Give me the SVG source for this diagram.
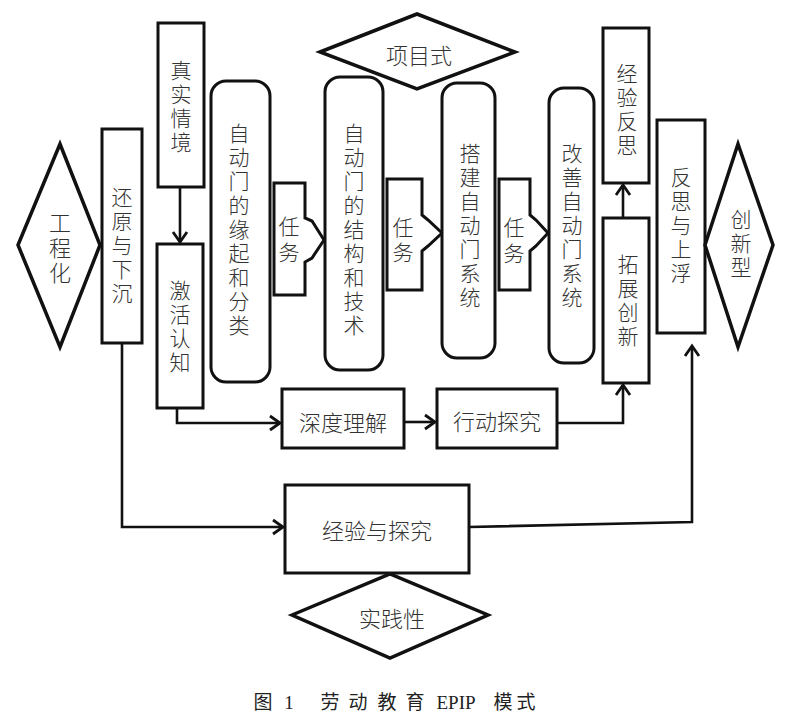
<svg xmlns="http://www.w3.org/2000/svg" width="800" height="719" viewBox="0 0 800 719">
<defs>
<style>
.box{fill:#fff;stroke:#111;stroke-width:3}
.dia{fill:#fff;stroke:#111;stroke-width:3.5;stroke-linejoin:miter}
.con{fill:none;stroke:#111;stroke-width:2.6}
.t{font-family:"Noto Sans CJK SC","Noto Sans",sans-serif;font-size:21px;font-weight:300;fill:#333;text-anchor:middle;dominant-baseline:central}
.v{writing-mode:vertical-rl;letter-spacing:3px}
.h{font-size:22px}
.cap{font-family:"Liberation Serif","Noto Sans CJK SC",serif;font-size:19px;fill:#222;text-anchor:middle;dominant-baseline:central}
</style>
<marker id="arr" markerUnits="userSpaceOnUse" markerWidth="14" markerHeight="16" refX="11" refY="7" orient="auto" overflow="visible">
<path d="M1,0 L11,7 L1,14" fill="none" stroke="#111" stroke-width="2.8"/>
</marker>
</defs>
<rect width="800" height="719" fill="#fff"/>

<g id="connectors">
<path class="con" d="M180,187 V242" marker-end="url(#arr)"/>
<path class="con" d="M177,408 V423 H280" marker-end="url(#arr)"/>
<path class="con" d="M404,422 H435" marker-end="url(#arr)"/>
<path class="con" d="M557,423 H623 V385" marker-end="url(#arr)"/>
<path class="con" d="M623,218 V185" marker-end="url(#arr)"/>
<path class="con" d="M122,343 V527 H283" marker-end="url(#arr)"/>
<path class="con" d="M469,527 L692,522 V346" marker-end="url(#arr)"/>
</g>

<g id="n-gongchenghua">
<polygon class="dia" points="18,245 60,144 100,245 60,347"/>
<text class="t v h" x="60" y="249">工程化</text>
</g>

<g id="n-huanyuan">
<rect class="box" x="102" y="129" width="40" height="214"/>
<text class="t v" x="122" y="247">还原与下沉</text>
</g>

<g id="n-zhenshi">
<rect class="box" x="158" y="23" width="46" height="164"/>
<text class="t v" x="181" y="108">真实情境</text>
</g>

<g id="n-jihuo">
<rect class="box" x="157" y="244" width="46" height="164"/>
<text class="t v" x="180" y="328">激活认知</text>
</g>

<g id="n-yuanqi">
<rect class="box" x="211" y="81" width="59" height="301" rx="15"/>
<text class="t v" x="239" y="231">自动门的缘起和分类</text>
</g>

<g id="n-task1">
<path class="box" d="M274,183 H305 V218 L312,221 L324,240 L312,258 L305,262 V295 H274 Z"/>
<text class="t v" x="289" y="242" style="letter-spacing:5px">任务</text>
</g>

<g id="n-jiegou">
<rect class="box" x="325" y="77" width="58" height="293" rx="15"/>
<text class="t v" x="354" y="231">自动门的结构和技术</text>
</g>

<g id="n-task2">
<path class="box" d="M387,179 H422 V215 L428,220 L442,233 L428,246 L422,251 V290 H387 Z"/>
<text class="t v" x="403" y="242" style="letter-spacing:4px">任务</text>
</g>

<g id="n-dajian">
<rect class="box" x="442" y="83" width="53" height="275" rx="15"/>
<text class="t v" x="470" y="227">搭建自动门系统</text>
</g>

<g id="n-task3">
<path class="box" d="M499,179 H530 V215 L536,220 L548,233 L536,246 L530,251 V290 H499 Z"/>
<text class="t v" x="514" y="243" style="letter-spacing:5px">任务</text>
</g>

<g id="n-gaishan">
<rect class="box" x="549" y="88" width="45" height="275" rx="15"/>
<text class="t v" x="572" y="227">改善自动门系统</text>
</g>

<g id="n-xiangmu">
<polygon class="dia" points="320,52 417,14 515,52 417,89"/>
<text class="t h" x="419" y="54">项目式</text>
</g>

<g id="n-jingyanfansi">
<rect class="box" x="603" y="28" width="46" height="155"/>
<text class="t v" x="627" y="111">经验反思</text>
</g>

<g id="n-tuozhan">
<rect class="box" x="603" y="218" width="46" height="165"/>
<text class="t v" x="628" y="302">拓展创新</text>
</g>

<g id="n-fansi">
<rect class="box" x="657" y="120" width="48" height="213"/>
<text class="t v" x="681" y="227">反思与上浮</text>
</g>

<g id="n-chuangxin">
<polygon class="dia" points="705,245 738,144 773,245 738,347"/>
<text class="t v" x="741" y="245">创新型</text>
</g>

<g id="n-shendu">
<rect class="box" x="282" y="389" width="122" height="59"/>
<text class="t h" x="343" y="421">深度理解</text>
</g>

<g id="n-xingdong">
<rect class="box" x="437" y="389" width="120" height="59"/>
<text class="t h" x="497" y="420">行动探究</text>
</g>

<g id="n-jingyan">
<rect class="box" x="285" y="485" width="184" height="88"/>
<text class="t h" x="377" y="529">经验与探究</text>
</g>

<g id="n-shijian">
<polygon class="dia" points="292,615 390,574 488,615 390,658"/>
<text class="t h" x="392" y="617">实践性</text>
</g>

<g id="caption">
<text class="cap"><tspan x="263" y="702">图</tspan><tspan x="289" y="702">1</tspan><tspan x="330" y="702">劳</tspan><tspan x="358" y="702">动</tspan><tspan x="387" y="702">教</tspan><tspan x="415" y="702">育</tspan><tspan x="456" y="702">EPIP</tspan><tspan x="503" y="702">模</tspan><tspan x="526" y="702">式</tspan></text>
</g>
</svg>
